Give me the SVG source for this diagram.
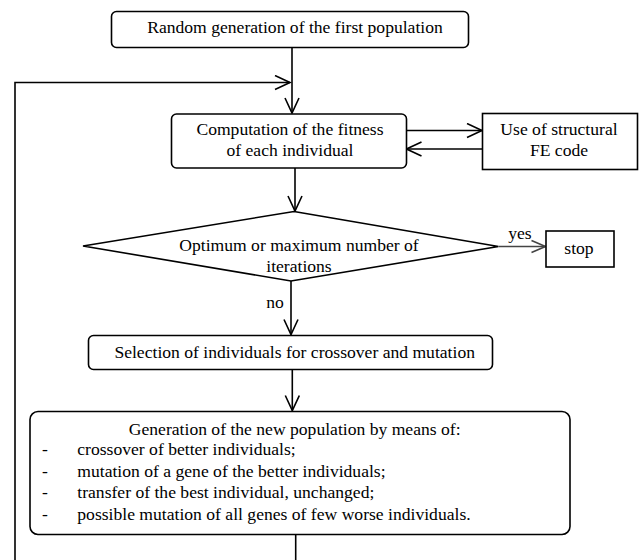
<svg xmlns="http://www.w3.org/2000/svg" width="640" height="560" viewBox="0 0 640 560">
<defs>
<marker id="arr" markerUnits="userSpaceOnUse" markerWidth="18" markerHeight="18" viewBox="0 0 18 18" refX="16" refY="8" orient="auto">
<path d="M1,1 L16,8 L1,15" fill="none" stroke="#000" stroke-width="1.6"/>
</marker>
<marker id="arrg" markerUnits="userSpaceOnUse" markerWidth="18" markerHeight="18" viewBox="0 0 18 18" refX="16" refY="8" orient="auto">
<path d="M2,2 L16,8 L2,14" fill="none" stroke="#444" stroke-width="1.6"/>
</marker>
</defs>
<style>
.box{fill:#fff;stroke:#000;stroke-width:1.6}
.ln{fill:none;stroke:#000;stroke-width:1.6}
.t{font-family:"Liberation Serif","Times New Roman",serif;font-size:17.6px;fill:#000}
.c{text-anchor:middle}
</style>
<rect width="640" height="560" fill="#fff"/>
<g id="connectors">
<line class="ln" x1="292" y1="47.5" x2="292" y2="113" marker-end="url(#arr)"/>
<polyline class="ln" points="15,560 15,82.5 290,82.5" marker-end="url(#arr)"/>
<line class="ln" x1="406" y1="130.5" x2="482" y2="130.5" marker-end="url(#arr)"/>
<line class="ln" x1="482" y1="149" x2="406.5" y2="149" marker-end="url(#arr)"/>
<line class="ln" x1="295" y1="168" x2="295" y2="211" marker-end="url(#arr)"/>
<line x1="499" y1="246.5" x2="545.5" y2="246.5" fill="none" stroke="#444" stroke-width="1.6" marker-end="url(#arrg)"/>
<text class="t c" x="520" y="239">yes</text>
<line class="ln" x1="291" y1="281" x2="291" y2="334.5" marker-end="url(#arr)"/>
<text class="t c" x="275" y="308">no</text>
<line class="ln" x1="292.3" y1="370" x2="292.3" y2="410.5" marker-end="url(#arr)"/>
<line class="ln" x1="295.7" y1="534.5" x2="295.7" y2="560"/>
</g>
<g id="start">
<rect class="box" x="111.5" y="11.5" width="357" height="36" rx="5"/>
<text class="t c" x="295" y="33">Random generation of the first population</text>
</g>
<g id="fitness">
<rect class="box" x="171.5" y="114" width="235" height="54" rx="5"/>
<text class="t c" x="290" y="135">Computation of the fitness</text>
<text class="t c" x="290" y="156">of each individual</text>
</g>
<g id="fecode">
<rect class="box" x="482.5" y="113.5" width="155" height="56"/>
<text class="t c" x="559" y="135">Use of structural</text>
<text class="t c" x="559" y="156">FE code</text>
</g>
<g id="decision">
<polygon class="box" points="294,211.5 498.5,246.5 291,281 83,246"/>
<text class="t c" x="299" y="251">Optimum or maximum number of</text>
<text class="t c" x="299" y="272">iterations</text>
</g>
<g id="stop">
<rect class="box" x="546" y="231" width="68" height="36"/>
<text class="t c" x="579" y="254">stop</text>
</g>
<g id="selection">
<rect class="box" x="88.5" y="335.5" width="404" height="34" rx="5"/>
<text class="t c" x="294.7" y="358">Selection of individuals for crossover and mutation</text>
</g>
<g id="generation">
<rect class="box" x="30" y="411.5" width="540" height="123" rx="8"/>
<text class="t c" x="294.7" y="435">Generation of the new population by means of:</text>
<text class="t" x="42" y="455">-</text>
<text class="t" x="77.3" y="455">crossover of better individuals;</text>
<text class="t" x="42" y="477">-</text>
<text class="t" x="77.3" y="477">mutation of a gene of the better individuals;</text>
<text class="t" x="42" y="498">-</text>
<text class="t" x="77.3" y="498">transfer of the best individual, unchanged;</text>
<text class="t" x="42" y="520">-</text>
<text class="t" x="77.3" y="520">possible mutation of all genes of few worse individuals.</text>
</g>
</svg>
